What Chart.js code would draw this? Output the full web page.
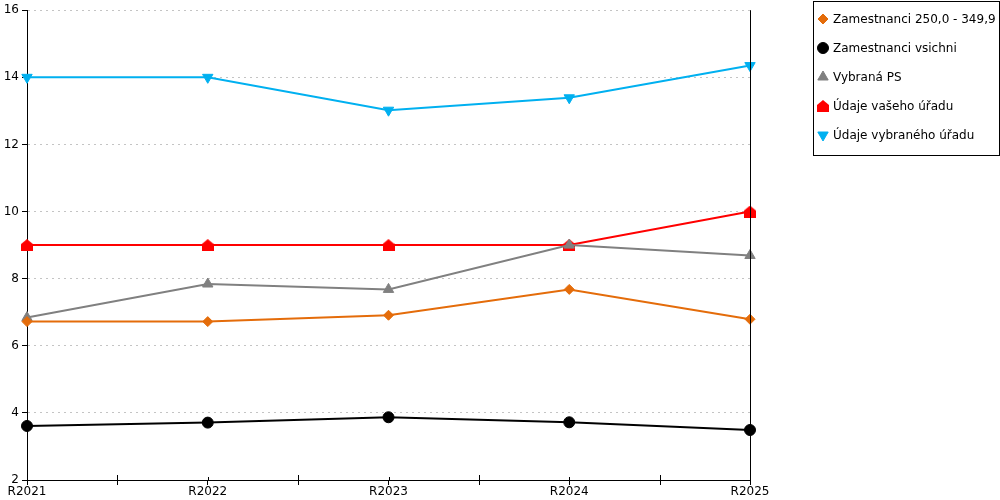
<!DOCTYPE html>
<html>
<head>
<meta charset="utf-8">
<script src="https://cdn.jsdelivr.net/npm/chart.js@4/dist/chart.umd.min.js"></script>
<style>
  html, body { margin: 0; padding: 0; background: #fff; }
  #wrap { width: 1000px; height: 500px; }
</style>
</head>
<body>
<div id="wrap"><canvas id="graf" width="1000" height="500"></canvas></div>
<script>
const roky = ["R2021", "R2022", "R2023", "R2024", "R2025"];
const yTicks = [2, 4, 6, 8, 10, 12, 14, 16];

const zam250 = [6.72, 6.72, 6.91, 7.68, 6.79];
const zamVsichni = [3.61, 3.71, 3.87, 3.72, 3.49];
const vybranaPS = [6.84, 7.84, 7.68, 9.0, 8.69];
const vasUrad = [9, 9, 9, 9, 10];
const vybranyUrad = [14, 14, 13.02, 13.39, 14.35];

// domecek pro "Údaje vašeho úřadu"
function domecek(barva) {
    const c = document.createElement("canvas");
    c.width = 12; c.height = 12;
    const g = c.getContext("2d");
    g.fillStyle = barva;
    g.beginPath();
    g.moveTo(6, 0);
    g.lineTo(12, 5);
    g.lineTo(12, 12);
    g.lineTo(0, 12);
    g.lineTo(0, 5);
    g.closePath();
    g.fill();
    return c;
}

const datasets = [
    { label: "Zamestnanci 250,0 - 349,9", data: zam250, borderColor: "#e46c0a", backgroundColor: "#e46c0a",
      pointStyle: "rectRot", pointRadius: 5, pointRotation: 0 },
    { label: "Zamestnanci vsichni", data: zamVsichni, borderColor: "#000000", backgroundColor: "#000000",
      pointStyle: "circle", pointRadius: 5.5, pointRotation: 0 },
    { label: "Vybraná PS", data: vybranaPS, borderColor: "#808080", backgroundColor: "#808080",
      pointStyle: "triangle", pointRadius: 6, pointRotation: 0 },
    { label: "Údaje vašeho úřadu", data: vasUrad, borderColor: "#ff0000", backgroundColor: "#ff0000",
      pointStyle: domecek("#ff0000"), pointRadius: 6, pointRotation: 0 },
    { label: "Údaje vybraného úřadu", data: vybranyUrad, borderColor: "#00b0f0", backgroundColor: "#00b0f0",
      pointStyle: "triangle", pointRadius: 6, pointRotation: 180 }
];
datasets.forEach(d => { d.borderWidth = 2; d.pointBorderWidth = 1; d.tension = 0; d.pointHoverRadius = d.pointRadius; });

// osy, vedlejsi ticky a legenda v ramecku
const doplnky = {
    id: "doplnky",
    afterDraw(chart) {
        const ctx = chart.ctx;
        const a = chart.chartArea;
        const x = chart.scales.x;
        ctx.save();
        ctx.strokeStyle = "#000";
        ctx.lineWidth = 1;
        ctx.setLineDash([]);
        ctx.beginPath();
        ctx.moveTo(Math.round(a.right) + 0.5, a.top);
        ctx.lineTo(Math.round(a.right) + 0.5, a.bottom);
        for (let i = 0; i < roky.length; i++) {
            const px = Math.round(x.getPixelForValue(i)) + 0.5;
            ctx.moveTo(px, a.bottom - 3);
            ctx.lineTo(px, a.bottom);
            if (i < roky.length - 1) {
                const pm = Math.round(x.getPixelForValue(i + 0.5)) + 0.5;
                ctx.moveTo(pm, a.bottom - 5);
                ctx.lineTo(pm, a.bottom + 5);
            }
        }
        ctx.stroke();

        // legenda
        ctx.strokeRect(813.5, 1.5, 186, 154);
        ctx.font = "12px 'DejaVu Sans'";
        ctx.textBaseline = "middle";
        ctx.textAlign = "left";
        chart.data.datasets.forEach((d, i) => {
            const y = 19 + i * 29;
            ctx.fillStyle = d.backgroundColor;
            ctx.strokeStyle = d.borderColor;
            Chart.helpers.drawPoint(ctx, {
                pointStyle: d.pointStyle,
                radius: d.pointRadius,
                rotation: d.pointRotation,
                borderWidth: 1
            }, 823, y);
            ctx.fillStyle = "#000";
            ctx.fillText(d.label, 833, y + 1);
        });
        ctx.restore();
    }
};

new Chart(document.getElementById("graf"), {
    type: "line",
    data: { labels: roky, datasets: datasets },
    plugins: [doplnky],
    options: {
        responsive: false,
        animation: false,
        layout: { autoPadding: false, padding: { top: 10, right: 250, left: 0, bottom: 0 } },
        plugins: {
            legend: { display: false },
            tooltip: { enabled: false }
        },
        scales: {
            x: {
                type: "category",
                offset: false,
                afterFit(s) { s.height = 20; },
                ticks: { color: "#000", font: { family: "DejaVu Sans", size: 12 }, padding: 0, maxRotation: 0, autoSkip: false },
                grid: { drawOnChartArea: false, color: "#000", tickColor: "#000", tickLength: 5 },
                border: { display: true, color: "#000", width: 1 }
            },
            y: {
                min: 2,
                max: 16,
                afterFit(s) { s.width = 27; },
                afterBuildTicks(s) { s.ticks = yTicks.map(v => ({ value: v })); },
                ticks: { color: "#000", font: { family: "DejaVu Sans", size: 12 }, padding: 3 },
                grid: { color: "#c4c4c4", tickColor: "#000", tickLength: 5, tickBorderDash: [] },
                border: { display: true, color: "#000", width: 1, dash: [2, 4] }
            }
        }
    }
});
</script>
</body>
</html>
